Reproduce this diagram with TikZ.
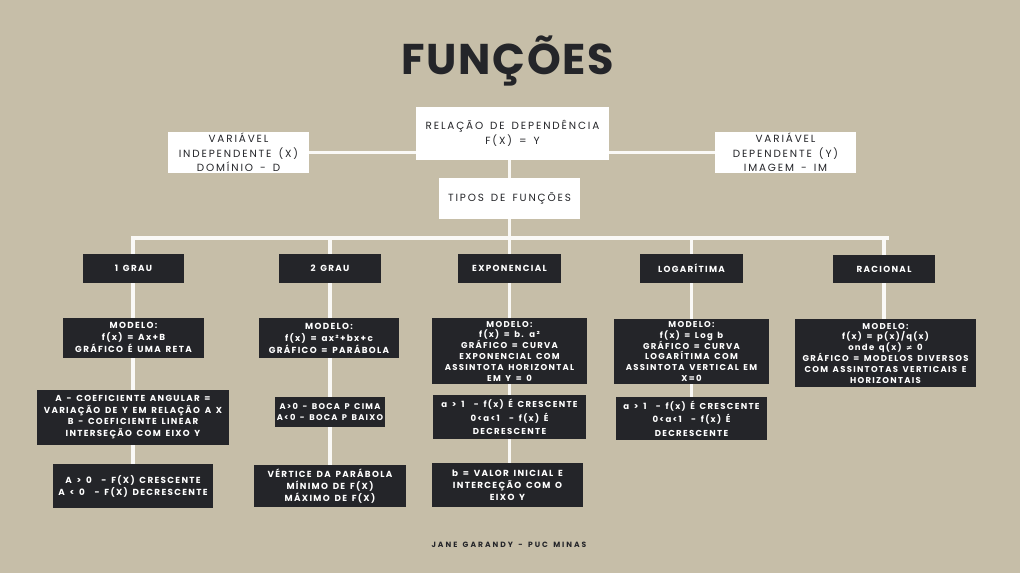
\documentclass[tikz,border=0pt]{standalone}
\usepackage{fontspec}
\usetikzlibrary{backgrounds}
\setmainfont{Poppins}
\newfontfamily\titlefont{Poppins}[LetterSpace=4]
\newfontfamily\lightfont{Poppins}[LetterSpace=18,WordSpace=1.5]
\newfontfamily\darkfont{Poppins}[LetterSpace=15,WordSpace=1.5]
\newfontfamily\footfont{Poppins}[LetterSpace=26,WordSpace=1.5]
\newfontfamily\symfont{DejaVu Sans}
\definecolor{paper}{RGB}{198,190,168}
\definecolor{ink}{RGB}{36,37,41}
\definecolor{rule}{RGB}{250,249,246}
\tikzset{
  wbox/.style={fill=white, text=ink, align=center, inner sep=0pt,
    font=\lightfont\fontsize{10.4}{14.5}\selectfont},
  dbox/.style={fill=ink, text=white, align=center, inner sep=0pt,
    font=\darkfont\bfseries\fontsize{8.8}{12}\selectfont},
  tight/.style={font=\darkfont\bfseries\fontsize{8.5}{10.8}\selectfont},
  loose/.style={font=\darkfont\bfseries\fontsize{8.6}{13.6}\selectfont},
  link/.style={draw=rule, line width=3.6pt},
}
\begin{document}
\begin{tikzpicture}[x=1pt,y=-1pt]
\useasboundingbox (0,0) rectangle (1020,573);

% title
\node[text=ink, font=\titlefont\bfseries\fontsize{43}{43}\selectfont] (title) at (508,61) {FUNÇÕES};

% upper part
\node[wbox, minimum width=193, minimum height=53] (rel) at (512.5,133.5) {RELAÇÃO DE DEPENDÊNCIA\\F(X) = Y};
\node[wbox, minimum width=141, minimum height=41] (varL) at (238.5,152.5) {VARIÁVEL\\INDEPENDENTE (X)\\DOMÍNIO - D};
\node[wbox, minimum width=141, minimum height=41] (varR) at (785.5,152.5) {VARIÁVEL\\DEPENDENTE (Y)\\IMAGEM - IM};
\node[wbox, minimum width=141, minimum height=41] (tipos) at (509.5,198.5) {TIPOS DE FUNÇÕES};

\coordinate (busL) at (133,238);
\coordinate (busR) at (887,238);

% function types
\node[dbox, minimum width=101, minimum height=29] (g1) at (133.5,268.5) {1 GRAU};
\node[dbox, minimum width=102, minimum height=29] (g2) at (330,268) {2 GRAU};
\node[dbox, minimum width=103, minimum height=29] (ex) at (509.5,268.5) {EXPONENCIAL};
\node[dbox, minimum width=103, minimum height=29] (lg) at (691.5,268.5) {LOGARÍTIMA};
\node[dbox, minimum width=102, minimum height=28] (rc) at (884,269) {RACIONAL};

% models
\node[dbox, minimum width=141, minimum height=40] (m1) at (133.5,337.5) {MODELO:\\f(x) = Ax+B\\GRÁFICO É UMA RETA};
\node[dbox, minimum width=140, minimum height=40] (m2) at (329,338) {MODELO:\\f(x) = ax²+bx+c\\GRÁFICO = PARÁBOLA};
\node[dbox, tight, minimum width=155, minimum height=66] (m3) at (509.5,351) {MODELO:\\f(x) = b. a²\\GRÁFICO = CURVA\\EXPONENCIAL COM\\ASSINTOTA HORIZONTAL\\EM Y = 0};
\node[dbox, tight, minimum width=155, minimum height=65] (m4) at (691.5,351.5) {MODELO:\\f(x) = Log b\\GRÁFICO = CURVA\\LOGARÍTIMA COM\\ASSINTOTA VERTICAL EM\\X=0};
\node[dbox, tight, minimum width=181, minimum height=68] (m5) at (885.5,353) {MODELO:\\f(x) = p(x)/q(x)\\onde q(x) {\symfont\bfseries\fontsize{7.6}{10}\selectfont ≠} 0\\GRÁFICO = MODELOS DIVERSOS\\COM ASSINTOTAS VERTICAIS E\\HORIZONTAIS};

% properties
\node[dbox, minimum width=192, minimum height=55, font=\darkfont\bfseries\fontsize{8.7}{11.5}\selectfont] (c1) at (133,417) {A - COEFICIENTE ANGULAR =\\VARIAÇÃO DE Y EM RELAÇÃO A X\\B - COEFICIENTE LINEAR\\INTERSEÇÃO COM EIXO Y};
\node[dbox, minimum width=110, minimum height=30, font=\darkfont\bfseries\fontsize{8.3}{10.4}\selectfont] (c2) at (330,412) {A>0 - BOCA P CIMA\\A<0 - BOCA P BAIXO};
\node[dbox, loose, minimum width=153, minimum height=44] (c3) at (509.5,417) {a > 1 \ - f(x) É CRESCENTE\\0<a<1 \ - f(x) É\\DECRESCENTE};
\node[dbox, loose, minimum width=151, minimum height=43] (c4) at (691.5,418.5) {a > 1 \ - f(x) É CRESCENTE\\0<a<1 \ - f(x) É\\DECRESCENTE};

% last row
\node[dbox, minimum width=160, minimum height=44] (d1) at (133,486) {A > 0 \ - F(X) CRESCENTE\\A < 0 \ - F(X) DECRESCENTE};
\node[dbox, minimum width=152, minimum height=42] (d2) at (330,486) {VÉRTICE DA PARÁBOLA\\MÍNIMO DE F(X)\\MÁXIMO DE F(X)};
\node[dbox, minimum width=151, minimum height=44] (d3) at (507.5,485) {b = VALOR INICIAL E\\INTERCEÇÃO COM O\\EIXO Y};

% footer
\node[text=ink, font=\footfont\bfseries\fontsize{7.6}{9}\selectfont] (foot) at (509,545) {JANE GARANDY - PUC MINAS};

% connectors behind the boxes
\begin{scope}[on background layer]
\fill[paper] (0,0) rectangle (1020,573);
\draw[link] (varL.east) -- (varL.east -| rel.west);
\draw[link] (varR.west) -- (varR.west -| rel.east);
\draw[link] (rel.south -| tipos.north) -- (tipos.north);
\draw[link] (tipos.south) -- (tipos.south |- busL);
\draw[link, line cap=rect] (busL) -- (busR);
\draw[link] (busL) -- (busL |- d1.north);
\draw[link] (g2.center |- busL) -- (g2.center |- d2.north);
\draw[link] (ex.center |- busL) -- (ex.center |- d3.north);
\draw[link] (lg.center |- busL) -- (lg.center |- c4.north);
\draw[link] (rc.center |- busL) -- (rc.center |- m5.north);
\end{scope}
\end{tikzpicture}
\end{document}
